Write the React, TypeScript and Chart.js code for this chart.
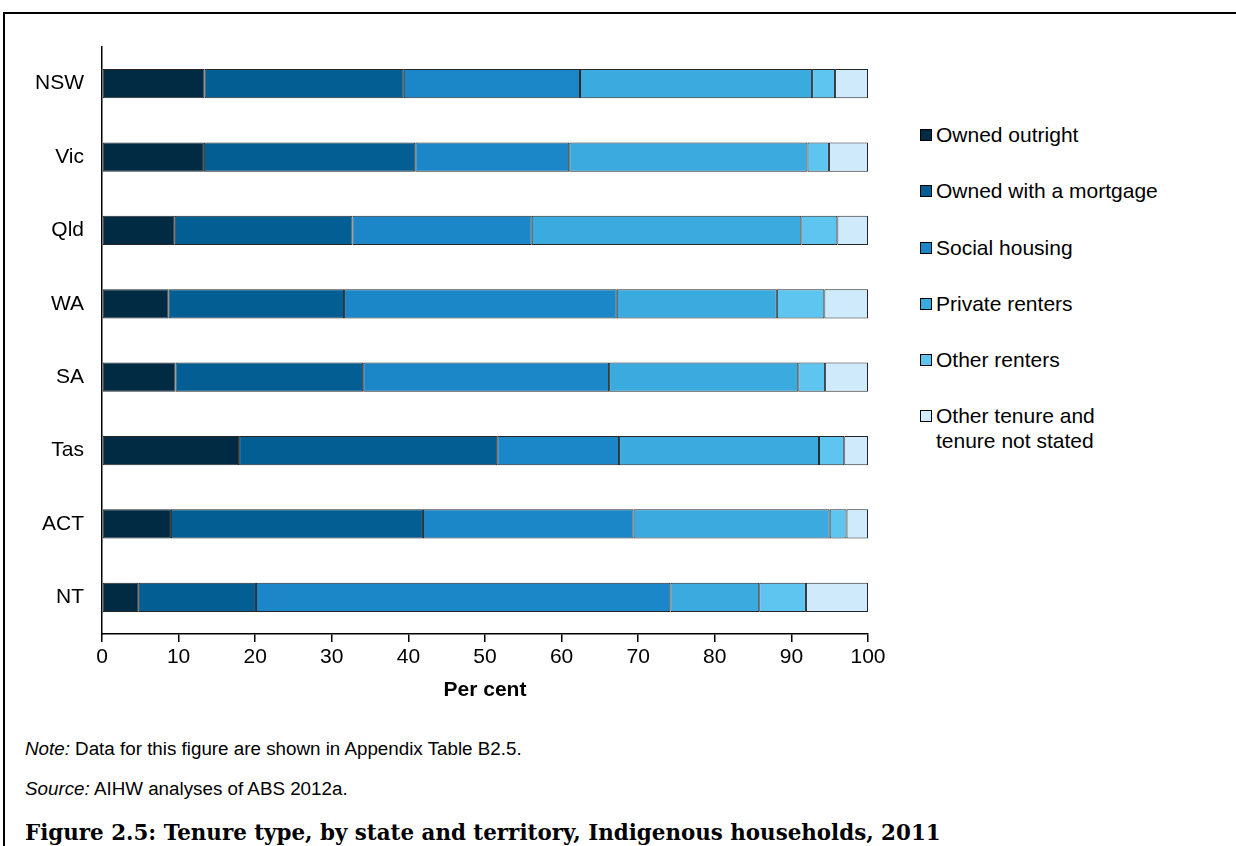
import React, { useEffect, useRef } from "react";
import { Chart, registerables } from "chart.js";

Chart.register(...registerables);

const states = ["NSW", "Vic", "Qld", "WA", "SA", "Tas", "ACT", "NT"];
const ownedOutright = [13.4, 13.3, 9.5, 8.7, 9.6, 17.9, 9.0, 4.8];
const ownedMortgage = [26.0, 27.6, 23.2, 22.9, 24.5, 33.7, 32.9, 15.3];
const socialHousing = [23.0, 20.1, 23.4, 35.6, 32.1, 15.9, 27.5, 54.1];
const privateRenters = [30.3, 31.1, 35.2, 20.9, 24.7, 26.1, 25.6, 11.6];
const otherRenters = [3.0, 2.8, 4.7, 6.2, 3.5, 3.3, 2.2, 6.1];
const otherTenure = [4.3, 5.1, 4.0, 5.7, 5.6, 3.1, 2.8, 8.1];
const xTicks = [0, 10, 20, 30, 40, 50, 60, 70, 80, 90, 100];

const seriesLabels = [
  ["Owned outright"],
  ["Owned with a mortgage"],
  ["Social housing"],
  ["Private renters"],
  ["Other renters"],
  ["Other tenure and", "tenure not stated"],
];
const seriesColors = ["#012a43", "#035e94", "#1c87c8", "#3aaadf", "#5ec5f0", "#ceeafb"];
const seriesData = [ownedOutright, ownedMortgage, socialHousing, privateRenters, otherRenters, otherTenure];

const FONT = "'Liberation Sans', Arial, sans-serif";

export default function App() {
  const ref = useRef<HTMLCanvasElement | null>(null);

  useEffect(() => {
    if (!ref.current) return;
    const chart = new Chart(ref.current, {
      type: "bar",
      data: {
        labels: states,
        datasets: seriesData.map((d, i) => ({
          label: seriesLabels[i].join(" "),
          data: d,
          backgroundColor: seriesColors[i],
          borderColor: "rgba(0,0,0,0.85)",
          borderWidth: 1,
          borderSkipped: false,
          categoryPercentage: 1,
          barPercentage: 0.4,
        })),
      },
      options: {
        indexAxis: "y",
        animation: false,
        responsive: false,
        devicePixelRatio: 1,
        layout: { padding: { top: 47, right: 32, bottom: 17, left: 0 } },
        plugins: { legend: { display: false }, tooltip: { enabled: false } },
        scales: {
          x: {
            stacked: true,
            min: 0,
            max: 100,
            afterBuildTicks: (s: any) => {
              s.ticks = xTicks.map((v) => ({ value: v }));
            },
            ticks: { font: { family: FONT, size: 21 }, color: "#000", padding: 3, maxRotation: 0 },
            grid: { display: true, drawOnChartArea: false, drawTicks: true, tickLength: 8, color: "#000", lineWidth: 1.5 },
            border: { display: true, color: "#000", width: 1.5 },
            title: { display: true, text: "Per cent", font: { family: FONT, size: 21, weight: "bold" }, color: "#000", padding: 0 },
            afterFit: (s: any) => {
              s.height = 69;
            },
          },
          y: {
            stacked: true,
            grid: { display: false, drawTicks: false },
            border: { display: true, color: "#000", width: 1.5 },
            ticks: { font: { family: FONT, size: 21 }, color: "#000", padding: 18 },
            afterFit: (s: any) => {
              s.width = 102;
            },
          },
        },
      } as any,
    });
    return () => chart.destroy();
  }, []);

  const legendCenters = [134, 190, 247, 303, 359, 415];

  return (
    <div style={{ position: "fixed", left: 0, top: 0, width: 1236, height: 846, background: "#fff", overflow: "hidden" }}>
      <div style={{ position: "absolute", left: 3, top: 12, width: 1240, height: 900, borderTop: "2px solid #000", borderLeft: "2px solid #000" }} />
      <canvas ref={ref} width={900} height={720} style={{ position: "absolute", left: 0, top: 0, width: 900, height: 720 }} />
      {seriesLabels.map((lines, i) => (
        <div key={i} style={{ position: "absolute", left: 920, top: legendCenters[i] - 12.5, fontFamily: FONT, fontSize: 21, lineHeight: "25px", color: "#000" }}>
          <div style={{ position: "absolute", left: 0, top: 7, width: 10, height: 10, background: seriesColors[i], border: "1px solid #000" }} />
          <div style={{ marginLeft: 16, whiteSpace: "nowrap" }}>
            {lines.map((l, j) => (
              <div key={j}>{l}</div>
            ))}
          </div>
        </div>
      ))}
      <div style={{ position: "absolute", left: 25, top: 737, fontFamily: FONT, fontSize: 18.8, lineHeight: "24px", color: "#000", whiteSpace: "nowrap" }}>
        <i>Note:</i> Data for this figure are shown in Appendix Table B2.5.
      </div>
      <div style={{ position: "absolute", left: 25, top: 777, fontFamily: FONT, fontSize: 18.8, lineHeight: "24px", color: "#000", whiteSpace: "nowrap" }}>
        <i>Source:</i> AIHW analyses of ABS 2012a.
      </div>
      <div style={{ position: "absolute", left: 25, top: 818, fontFamily: "'DejaVu Serif', serif", fontWeight: "bold", fontSize: 21.4, lineHeight: "30px", color: "#000", whiteSpace: "nowrap" }}>
        Figure 2.5: Tenure type, by state and territory, Indigenous households, 2011
      </div>
    </div>
  );
}
